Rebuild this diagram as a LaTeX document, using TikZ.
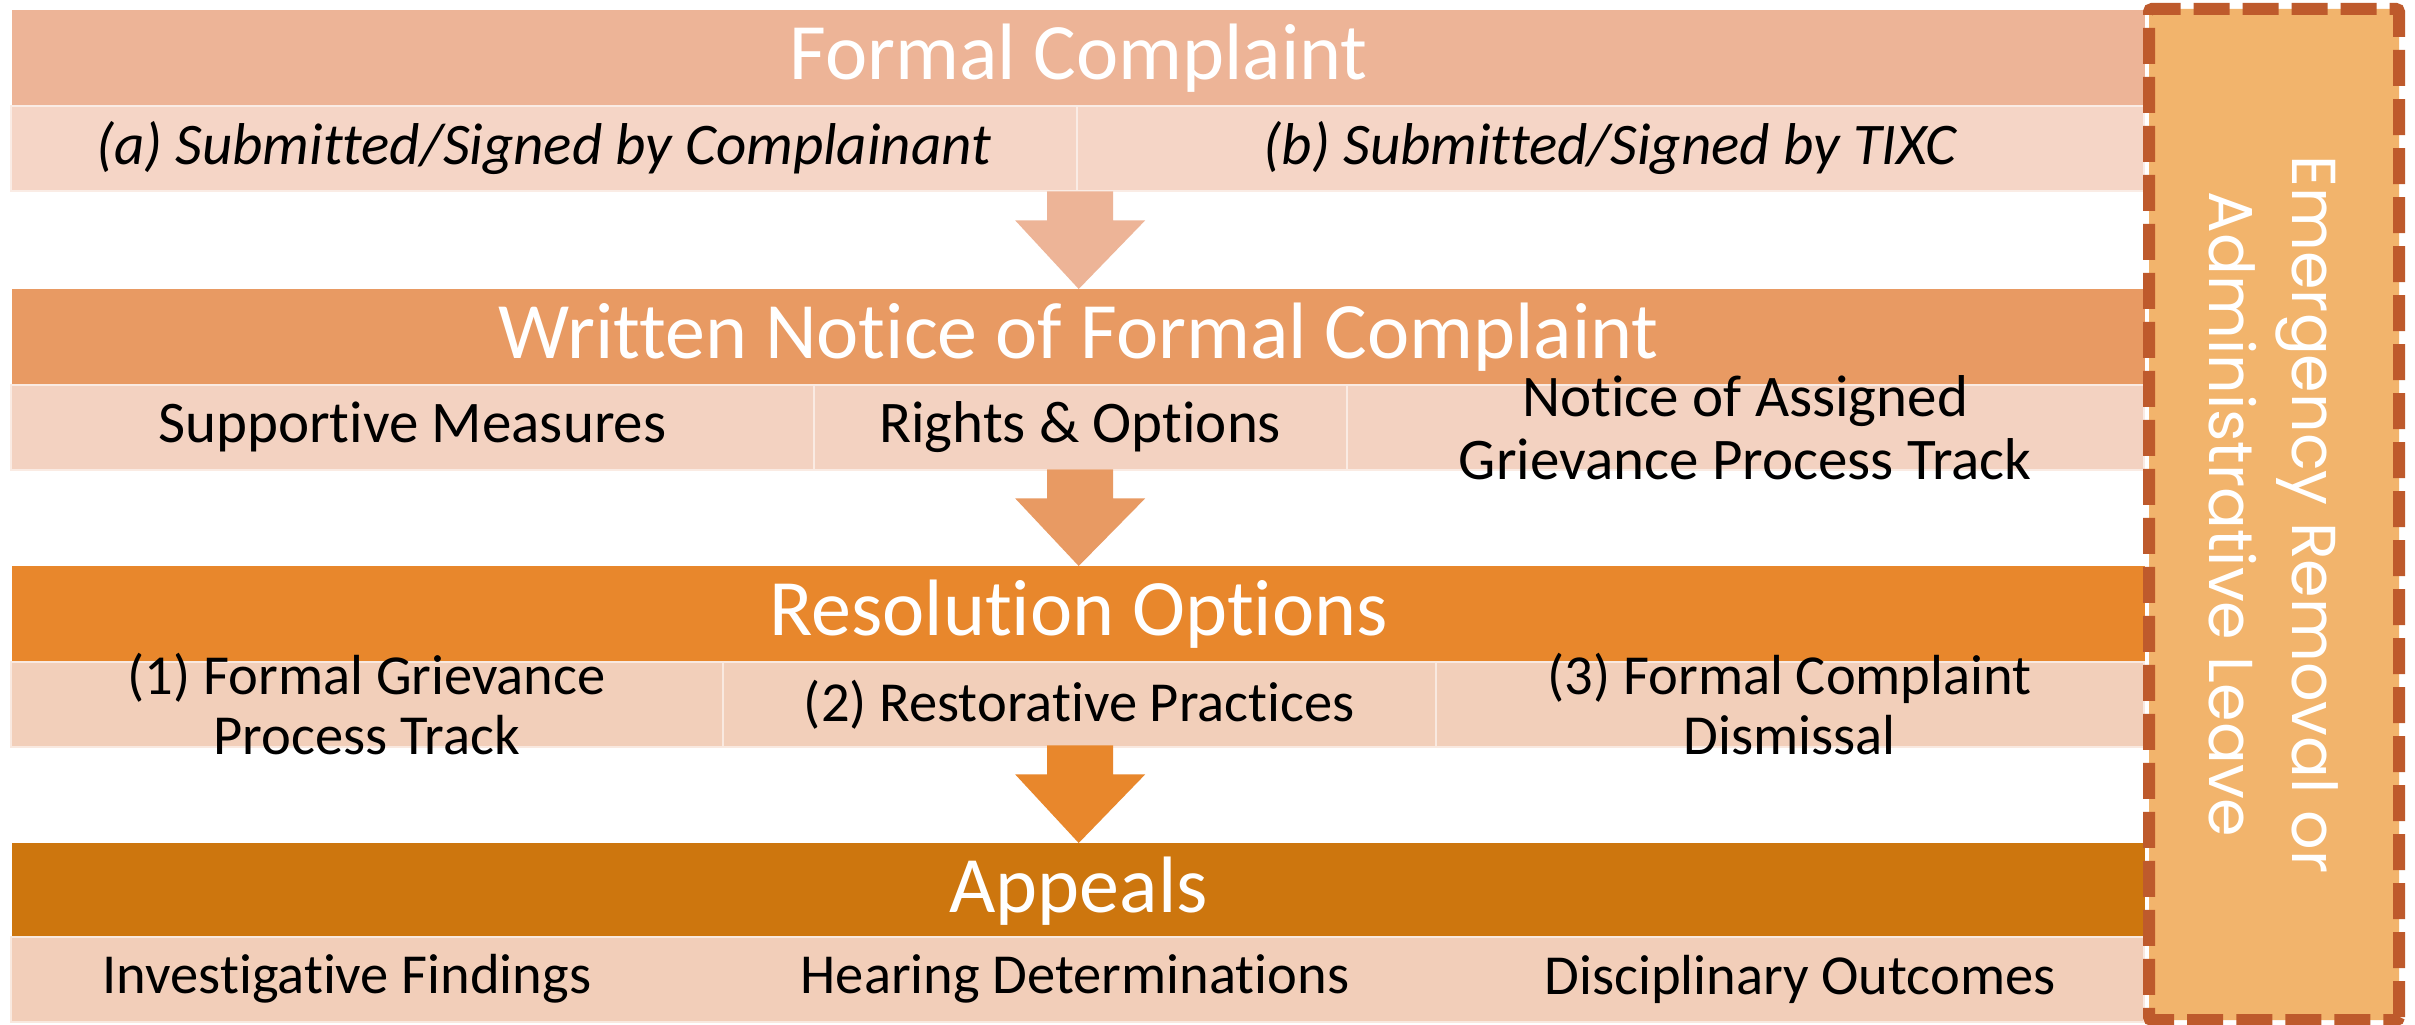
\documentclass[tikz,border=0pt]{standalone}
\usepackage{fontspec}
\setmainfont[Ligatures=NoCommon]{Carlito}
\newfontfamily\boxfont{Poppins}
\usetikzlibrary{calc}

\definecolor{headA}{HTML}{EDB497}
\definecolor{headB}{HTML}{E89A63}
\definecolor{headC}{HTML}{E8872C}
\definecolor{headD}{HTML}{CD760E}
\definecolor{rowA}{HTML}{F5D5C6}
\definecolor{rowB}{HTML}{F3D2C1}
\definecolor{rowC}{HTML}{F2CFBA}
\definecolor{rowD}{HTML}{F2CEB9}
\definecolor{leaveFill}{HTML}{F2B46C}
\definecolor{leaveLine}{HTML}{BE5A2C}

\newcommand\bandfont{\fontsize{80}{92}\selectfont}
\newcommand\cellfontA{\fontsize{59}{63}\selectfont}
\newcommand\cellfontB{\fontsize{56.5}{60}\selectfont}

\tikzset{
  bandhead/.style={fill=#1, draw=none, anchor=north west, inner sep=0pt,
    minimum width=2133pt, minimum height=95pt, text=white, font=\bandfont},
  bandcell/.style={fill=#1, draw=white!55!#1, line width=1.5pt, anchor=north west,
    inner sep=0pt, minimum height=85pt},
  celltext/.style={inner sep=0pt, align=center, font=#1},
  flowarrow/.style={fill=#1, draw=none},
  leavebox/.style={fill=leaveFill, draw=leaveLine, line width=12pt,
    dash pattern=on 36pt off 13pt, rounded corners=3pt, rotate=-90,
    minimum width=1011pt, minimum height=250pt, inner sep=0pt,
    text=white, align=center, font=\boxfont\fontsize{62}{83}\selectfont}
}

% block arrow from the bottom of one band to the top of the next
\newcommand\bandarrow[3]{%
  \fill[flowarrow=#1] ($(#2)+(-33,0)$) -- ($(#2)+(-33,29)$) -- ($(#2)+(-65,29)$)
    -- (#3.north) -- ($(#2)+(65,29)$) -- ($(#2)+(33,29)$) -- ($(#2)+(33,0)$) -- cycle;}

\begin{document}
\begin{tikzpicture}[x=1pt,y=-1pt]
\useasboundingbox[fill=white] (0,0) rectangle (2415,1025);

% ---- Formal Complaint
\node[bandhead=headA] (h1) at (12,10) {Formal Complaint};
\node[bandcell=rowA, minimum width=1066pt] (c11) at (10,105) {};
\node[bandcell=rowA, minimum width=1067pt] (c12) at (1076,105) {};
\node[celltext=\cellfontA\itshape] (t11) at (c11.center) {(a) Submitted/Signed by Complainant};
\node[celltext=\cellfontA\itshape] (t12) at (c12.center) {(b) Submitted/Signed by TIXC};
\coordinate (e1) at ($(h1.south)+(1.5,86)$);

% ---- Written Notice
\node[bandhead=headB] (h2) at (12,289) {Written Notice of Formal Complaint};
\node[bandcell=rowB, minimum width=803pt] (c21) at (10,384) {};
\node[bandcell=rowB, minimum width=533pt] (c22) at (813,384) {};
\node[bandcell=rowB, minimum width=797pt] (c23) at (1346,384) {};
\node[celltext=\cellfontA] (t21) at (c21.center) {Supportive Measures};
\node[celltext=\cellfontA] (t22) at (c22.center) {Rights \& Options};
\node[celltext=\cellfontA] (t23) at (c23.center) {Notice of Assigned\\Grievance Process Track};
\coordinate (e2) at ($(h2.south)+(1.5,85)$);

% ---- Resolution Options
\node[bandhead=headC] (h3) at (12,566) {Resolution Options};
\node[bandcell=rowC, minimum width=712pt] (c31) at (10,661) {};
\node[bandcell=rowC, minimum width=713pt] (c32) at (722,661) {};
\node[bandcell=rowC, minimum width=708pt] (c33) at (1435,661) {};
\node[celltext=\cellfontB] (t31) at (c31.center) {(1) Formal Grievance\\Process Track};
\node[celltext=\cellfontB] (t32) at (c32.center) {(2) Restorative Practices};
\node[celltext=\cellfontB] (t33) at (c33.center) {(3) Formal Complaint\\Dismissal};
\coordinate (e3) at ($(h3.south)+(1.5,84)$);

% ---- Appeals
\node[bandhead=headD] (h4) at (12,843) {Appeals};
\node[bandcell=rowD, minimum width=2133pt] (c4) at (10,936) {};
\node[celltext=\cellfontB] (t41) at (347,979) {Investigative Findings};
\node[celltext=\cellfontB] (t42) at (1075,979) {Hearing Determinations};
\node[celltext=\cellfontB] (t43) at (1800,979) {Disciplinary Outcomes};

% ---- arrows between bands
\bandarrow{headA}{e1}{h2}
\bandarrow{headB}{e2}{h3}
\bandarrow{headC}{e3}{h4}

% ---- side panel
\node[leavebox] (leave) at (2274,514.5) {Emergency Removal or\\Administrative Leave};
\end{tikzpicture}
\end{document}
